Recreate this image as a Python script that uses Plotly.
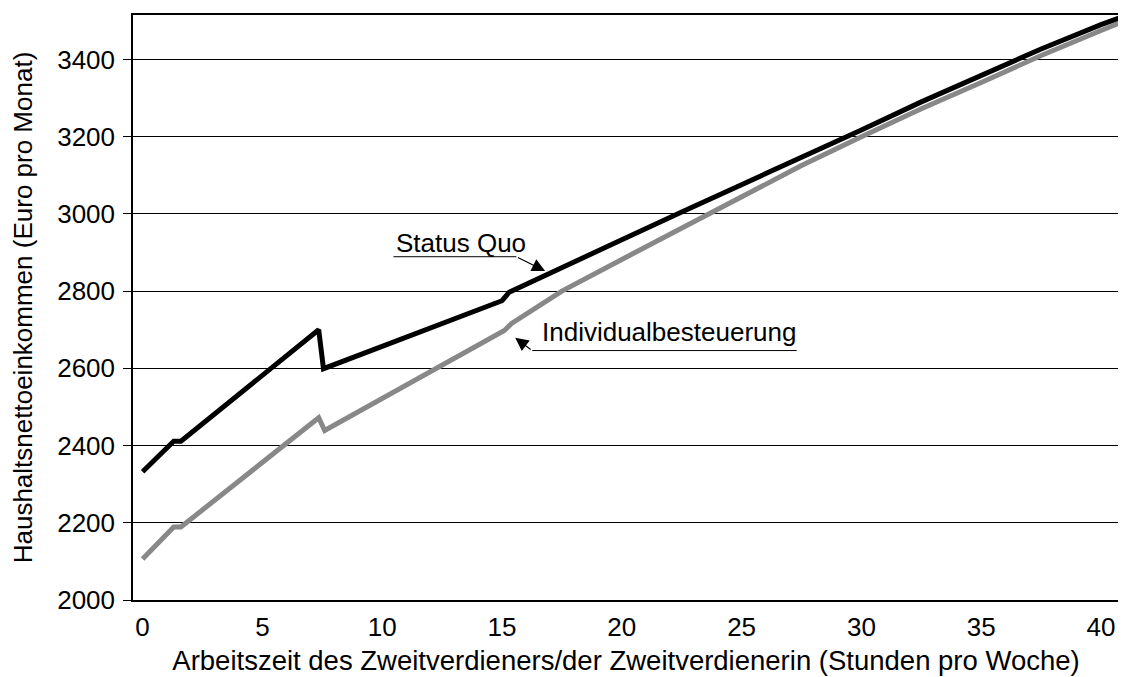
import plotly.graph_objects as go

# Hours per week worked by second earner
hours_sq = [0, 1.3, 1.6, 7.35, 7.55, 15.0, 15.3, 17, 20, 22.5, 25, 27.5, 30, 32.5, 35, 37.5, 40, 40.8]
status_quo = [2332, 2411, 2411, 2700, 2599, 2775, 2797, 2847, 2933, 3005, 3075, 3146, 3217, 3290, 3360, 3427, 3490, 3508]

hours_ib = [0, 1.3, 1.6, 7.35, 7.6, 15.1, 15.4, 17.5, 20, 22.5, 25, 27.5, 30, 32.5, 35, 37.5, 40, 40.8]
individual = [2106, 2189, 2189, 2472, 2439, 2698, 2716, 2800, 2882, 2964, 3046, 3125, 3200, 3272, 3340, 3410, 3475, 3495]

x_ticks = [0, 5, 10, 15, 20, 25, 30, 35, 40]
y_ticks = [2000, 2200, 2400, 2600, 2800, 3000, 3200, 3400]

FONT = "Liberation Sans, Arial, sans-serif"

fig = go.Figure()
fig.add_trace(go.Scatter(x=hours_sq, y=status_quo, mode="lines",
                         line=dict(color="black", width=5), name="Status Quo"))
fig.add_trace(go.Scatter(x=hours_ib, y=individual, mode="lines",
                         line=dict(color="#888888", width=5), name="Individualbesteuerung"))

# Labels with underline and arrow
fig.add_annotation(x=13.3, y=2924, text="Status Quo", showarrow=False,
                   font=dict(size=26, color="black"))
fig.add_shape(type="line", x0=10.47, x1=15.6, y0=2889, y1=2889,
              line=dict(color="black", width=1))
fig.add_annotation(x=16.8, y=2852, ax=15.6, ay=2889, axref="x", ayref="y",
                   xref="x", yref="y", text="", showarrow=True,
                   arrowhead=2, arrowsize=2.2, arrowwidth=1.2, arrowcolor="black")

fig.add_annotation(x=21.95, y=2693, text="Individualbesteuerung", showarrow=False,
                   font=dict(size=26, color="black"))
fig.add_shape(type="line", x0=16.26, x1=27.3, y0=2646, y1=2646,
              line=dict(color="black", width=1))
fig.add_annotation(x=15.55, y=2679, ax=16.26, ay=2646, axref="x", ayref="y",
                   xref="x", yref="y", text="", showarrow=True,
                   arrowhead=2, arrowsize=2.2, arrowwidth=1.2, arrowcolor="black")

fig.update_layout(
    width=1118, height=669,
    margin=dict(l=125, r=6, t=5, b=77),
    plot_bgcolor="white", paper_bgcolor="white",
    showlegend=False,
    font=dict(family=FONT, size=26, color="black"),
)
fig.update_xaxes(
    range=[-0.4, 40.75], tickvals=x_ticks, ticks="", showgrid=False,
    showline=True, mirror=True, linecolor="black", linewidth=1.5, zeroline=False,
    ticklabelstandoff=3, tickfont=dict(size=26),
    title=dict(text="Arbeitszeit des Zweitverdieners/der Zweitverdienerin (Stunden pro Woche)",
               font=dict(size=27.5), standoff=10),
)
fig.update_yaxes(
    range=[2000, 3515], tickvals=y_ticks, ticks="outside", ticklen=8, tickcolor="black",
    showgrid=True, gridcolor="black", gridwidth=1,
    showline=True, mirror=True, linecolor="black", linewidth=1.5, zeroline=False,
    ticklabelstandoff=3, tickfont=dict(size=26),
    title=dict(text="Haushaltsnettoeinkommen (Euro pro Monat)", font=dict(size=26), standoff=20),
)

fig.write_html("out.html")
